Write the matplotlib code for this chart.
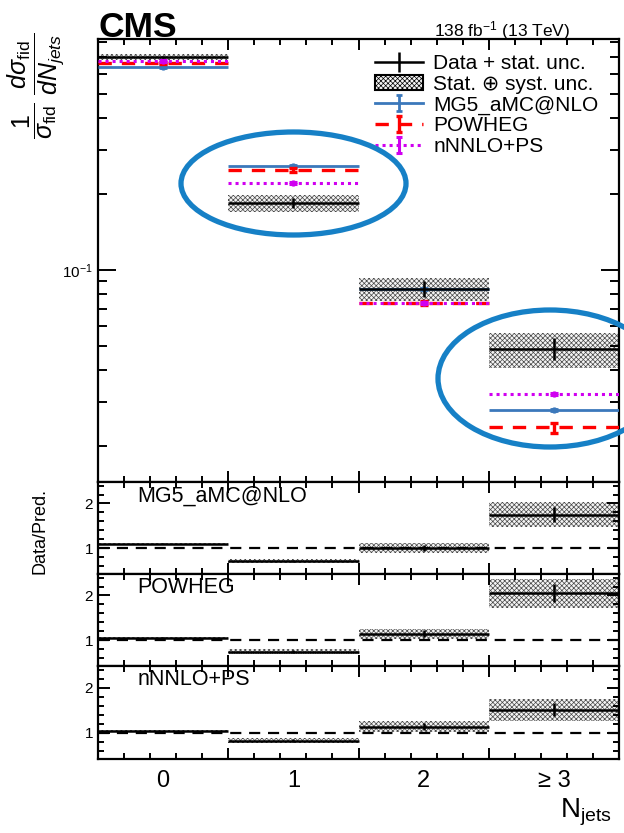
import numpy as np
import matplotlib
matplotlib.use("Agg")
import matplotlib.pyplot as plt
from matplotlib.patches import Ellipse, Patch
from matplotlib.lines import Line2D
from matplotlib.path import Path
from matplotlib.ticker import FixedLocator, MultipleLocator, LogLocator, NullFormatter, FixedFormatter

plt.rcParams['font.family'] = ['Liberation Sans', 'DejaVu Sans']
plt.rcParams['mathtext.fontset'] = 'custom'
plt.rcParams['mathtext.rm'] = 'Liberation Sans'
plt.rcParams['mathtext.it'] = 'Liberation Sans:italic'
plt.rcParams['mathtext.bf'] = 'Liberation Sans:bold'
plt.rcParams['hatch.linewidth'] = 0.5

# ---- data ----
bin_labels = ["0", "1", "2", "\u2265 3"]
bin_edges = [-0.5, 0.5, 1.5, 2.5, 3.5]
data = [0.700, 0.184, 0.0841, 0.0486]
data_stat_rel = [0.010, 0.045, 0.070, 0.100]
data_tot_rel = [0.025, 0.076, 0.105, 0.160]

mg5 = [0.640, 0.259, 0.0841, 0.0278]
mg5_unc_rel = [0.015, 0.010, 0.010, 0.010]
powheg = [0.665, 0.249, 0.0738, 0.0237]
powheg_unc_rel = [0.010, 0.015, 0.020, 0.045]
nnnlo = [0.677, 0.222, 0.0738, 0.0321]
nnnlo_unc_rel = [0.010, 0.010, 0.010, 0.010]

W, H = 624, 833
fig = plt.figure(figsize=(W / 100, H / 100), dpi=100)


def frac_box(left, top, right, bottom):
    return [left / W, 1 - bottom / H, (right - left) / W, (bottom - top) / H]


ax = fig.add_axes(frac_box(98, 39, 619, 482))
rax1 = fig.add_axes(frac_box(98, 482, 619, 574))
rax2 = fig.add_axes(frac_box(98, 574, 619, 666))
rax3 = fig.add_axes(frac_box(98, 666, 619, 759))

edges = np.array(bin_edges)
centers = 0.5 * (edges[:-1] + edges[1:])
data_a = np.array(data)

band_kw = dict(facecolor='#f4f4f4', edgecolor='#474747', hatch='xxxxxxx', linewidth=0)

# ---- main panel ----
for i in range(len(data)):
    lo = data[i] * (1 - data_tot_rel[i])
    hi = data[i] * (1 + data_tot_rel[i])
    ax.fill_between([edges[i], edges[i + 1]], lo, hi, zorder=1, **band_kw)

preds = [
    ("MG5_aMC@NLO", mg5, mg5_unc_rel, '#3b78bb', '-', 2.0, 'o'),
    ("POWHEG", powheg, powheg_unc_rel, '#ff0000', (0, (4, 3)), 2.4, None),
    ("nNNLO+PS", nnnlo, nnnlo_unc_rel, '#d000f0', (0, (1, 1.3)), 2.2, 'o'),
]

# vertical bar with caps, used as legend marker
ibar = Path([(0, -1), (0, 1), (-0.45, -1), (0.45, -1), (-0.45, 1), (0.45, 1)],
            [Path.MOVETO, Path.LINETO, Path.MOVETO, Path.LINETO, Path.MOVETO, Path.LINETO])

leg_handles = [Line2D([], [], color='black', lw=1.8, marker='|', ms=15, mew=1.8),
               Patch(facecolor='#f4f4f4', edgecolor='black', hatch='xxxxxxx', linewidth=1.5)]
leg_labels = ["Data + stat. unc.", "Stat. \u2295 syst. unc."]

for name, vals, unc, col, ls, lw, mk in preds:
    v = np.array(vals)
    ax.hlines(v, edges[:-1], edges[1:], colors=col, linestyles=ls, linewidth=lw, zorder=3)
    ax.errorbar(centers, v, yerr=v * np.array(unc), fmt='none', ecolor=col,
                elinewidth=lw, capsize=3, capthick=lw, zorder=3)
    if mk:
        ax.plot(centers, v, linestyle='none', marker=mk, ms=3.5, color=col, zorder=3)
    leg_handles.append(Line2D([], [], color=col, ls=ls, lw=lw, marker=ibar, ms=11,
                              mew=lw, mec=col))
    leg_labels.append(name)

ax.hlines(data_a, edges[:-1], edges[1:], colors='black', linewidth=1.8, zorder=5)
ax.errorbar(centers, data_a, yerr=data_a * np.array(data_stat_rel),
            fmt='none', ecolor='black', elinewidth=1.8, capsize=0, zorder=5)

ax.set_yscale('log')
ax.set_xlim(-0.5, 3.5)
ax.set_ylim(0.0144, 0.825)

ax.legend(leg_handles, leg_labels, loc='upper left', bbox_to_anchor=(0.516, 0.985),
          frameon=False, fontsize=15, handlelength=2.3, handletextpad=0.48,
          labelspacing=0.08, borderaxespad=0, numpoints=1)

# ---- ratio panels ----
ratio_axes = [rax1, rax2, rax3]
for rax, (name, vals, unc, col, ls, lw, mk) in zip(ratio_axes, preds):
    v = np.array(vals)
    ratio = data_a / v
    for i in range(len(data)):
        lo = ratio[i] * (1 - data_tot_rel[i])
        hi = ratio[i] * (1 + data_tot_rel[i])
        rax.fill_between([edges[i], edges[i + 1]], lo, hi, zorder=1, **band_kw)
    rax.axhline(1.0, color='black', lw=1.6, ls=(0, (5, 3.5)), zorder=2)
    rax.hlines(ratio, edges[:-1], edges[1:], colors='black', linewidth=1.8, zorder=5)
    rax.errorbar(centers, ratio, yerr=ratio * np.array(data_stat_rel),
                 fmt='none', ecolor='black', elinewidth=1.8, capsize=0, zorder=5)
    rax.set_xlim(-0.5, 3.5)
    rax.set_ylim(0.42, 2.48)
    rax.text(0.075, 0.85, name, transform=rax.transAxes, fontsize=15.5,
             ha='left', va='center')
    rax.yaxis.set_major_locator(FixedLocator([1, 2]))
    rax.yaxis.set_major_formatter(FixedFormatter(["1", "2"]))
    rax.yaxis.set_minor_locator(MultipleLocator(0.2))

# ---- axis styling ----
for a in [ax] + ratio_axes:
    for s in a.spines.values():
        s.set_linewidth(1.6)
    a.xaxis.set_major_locator(FixedLocator([0.5, 1.5, 2.5]))
    a.xaxis.set_minor_locator(FixedLocator(np.arange(-0.3, 3.5, 0.2)))
    a.xaxis.set_major_formatter(NullFormatter())
    a.tick_params(which='both', direction='in', top=True, right=True, width=1.4)
    a.tick_params(axis='x', which='major', length=8)
    a.tick_params(axis='x', which='minor', length=4)

ax.yaxis.set_major_locator(LogLocator(base=10, numticks=10))
ax.yaxis.set_minor_locator(LogLocator(base=10, subs=np.arange(2, 10), numticks=20))
ax.yaxis.set_minor_formatter(NullFormatter())
ax.tick_params(axis='y', which='major', length=13, labelsize=11)
ax.tick_params(axis='y', which='minor', length=6.5)
for rax in ratio_axes:
    rax.tick_params(axis='y', which='major', length=8.5, labelsize=11)
    rax.tick_params(axis='y', which='minor', length=4.3)

for xc, lab in zip(centers, bin_labels):
    rax3.text(xc, -0.12, lab, transform=rax3.get_xaxis_transform(), ha='center',
              va='top', fontsize=17)

# ---- texts ----
fig.text(98 / W, 1 - 37 / H, "CMS", fontsize=25.5, fontweight='bold', ha='left', va='baseline')
fig.text(570 / W, 1 - 36 / H, r"138 fb$^{-1}$ (13 TeV)", fontsize=12.5, ha='right', va='baseline')
fig.text(36 / W, 1 - 86 / H,
         r"$\dfrac{1}{\sigma_{\mathrm{fid}}}\ \dfrac{d\sigma_{\mathrm{fid}}}{dN_{jets}}$",
         rotation=90, fontsize=18, ha='center', va='center')
fig.text(40 / W, 1 - 531 / H, "Data/Pred.", rotation=90, fontsize=13, ha='center', va='center')
fig.text(612 / W, 1 - 818 / H, r"N$_{\mathrm{jets}}$", fontsize=20, ha='right', va='baseline')

# ---- highlight ellipses ----
ell_col = '#1680c6'
for cx, cy, ew, eh in [(293.5, 183.5, 225, 103), (550, 378.5, 224, 137)]:
    fig.patches.append(Ellipse((cx / W, 1 - cy / H), ew / W, eh / H, transform=fig.transFigure,
                               fill=False, edgecolor=ell_col, linewidth=3.8, zorder=10))

fig.savefig("out.png", dpi=100)
